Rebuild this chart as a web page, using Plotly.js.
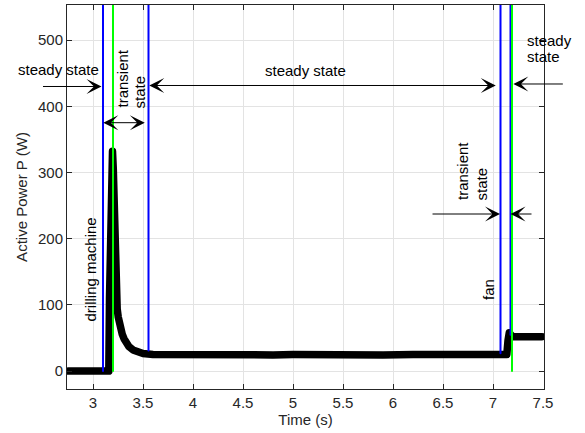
<!DOCTYPE html>
<html>
<head>
<meta charset="utf-8">
<script src="https://cdn.plot.ly/plotly-3.0.1.min.js"></script>
<style>
html,body{margin:0;padding:0;background:#fff;}
#chart{width:585px;height:433px;}
.scatterlayer .js-line{stroke-linejoin:round !important;stroke-linecap:round !important;}
</style>
</head>
<body>
<div id="chart"></div>
<script>
// Measured active power (W) vs time (s)
const time = [2.75, 2.9, 3.05, 3.158, 3.165, 3.175, 3.185, 3.195, 3.203, 3.208, 3.213, 3.218, 3.225, 3.233, 3.242, 3.252, 3.263, 3.277, 3.292, 3.31, 3.33, 3.36, 3.40, 3.45, 3.5, 3.6, 3.8, 4.0, 4.2, 4.5, 4.8, 5.0, 5.3, 5.6, 5.9, 6.2, 6.5, 6.8, 7.0, 7.138, 7.15, 7.163, 7.178, 7.2, 7.3, 7.4, 7.49];
const power = [0, 0, 0, 0, 110, 240, 315, 332, 305, 258, 210, 170, 135, 110, 94, 82, 72, 63, 56, 49, 44, 37, 32, 28, 26.5, 25, 24.5, 25, 24.5, 25, 24.5, 25, 24, 25, 24.5, 25, 24.5, 25, 24.5, 25, 46, 58, 55, 52, 51.5, 52, 52];

// Event marker lines (x position, y start, y end)
const blueX = [3.10, 3.555, 7.075, 7.175];
const blueY0 = [0, 31, 27, 55];
const greenX = [3.20, 7.19];
const greenY0 = [0, 0];
const lineTop = 600;

const xTicks = [3, 3.5, 4, 4.5, 5, 5.5, 6, 6.5, 7, 7.5];
const yTicks = [0, 100, 200, 300, 400, 500];

const traces = [{
  x: time, y: power, type: 'scatter', mode: 'lines',
  line: {color: '#000000', width: 7.5}, hoverinfo: 'skip', showlegend: false
}];
blueX.forEach((xv, i) => traces.push({
  x: [xv, xv], y: [blueY0[i], lineTop], type: 'scatter', mode: 'lines',
  line: {color: '#0000ff', width: 2}, showlegend: false, hoverinfo: 'skip'
}));
greenX.forEach((xv, i) => traces.push({
  x: [xv, xv], y: [greenY0[i], lineTop], type: 'scatter', mode: 'lines',
  line: {color: '#00ff00', width: 2}, showlegend: false, hoverinfo: 'skip'
}));

const F = 'Liberation Sans, Arial, Helvetica, sans-serif';
const txt = (text, x, y, opts) => Object.assign({
  text: text, x: x, y: y, xref: 'paper', yref: 'paper', showarrow: false,
  font: {family: F, size: 15, color: '#000'}
}, opts || {});
const arr = (x, y, ax, both) => ({
  text: '', x: x, y: y, xref: 'paper', yref: 'paper', ax: ax, ay: 0,
  showarrow: true, arrowhead: 3, arrowsize: 2.5, arrowwidth: 1, arrowcolor: '#000',
  startarrowhead: 3, startarrowsize: 2.5, arrowside: both ? 'end+start' : 'end',
  standoff: 0, startstandoff: 0
});

const annotations = [
  txt('steady state', -0.0168, 0.8333, {xanchor: 'center', yanchor: 'middle'}),
  txt('transient', 0.1164, 0.7266, {textangle: -90, xanchor: 'center', yanchor: 'bottom'}),
  txt('state', 0.1530, 0.7266, {textangle: -90, xanchor: 'center', yanchor: 'bottom'}),
  txt('steady state', 0.4990, 0.8307, {xanchor: 'center', yanchor: 'middle'}),
  txt('steady', 0.9602, 0.9063, {xanchor: 'left', yanchor: 'middle'}),
  txt('state', 0.9602, 0.8646, {xanchor: 'left', yanchor: 'middle'}),
  txt('transient', 0.8302, 0.4870, {textangle: -90, xanchor: 'center', yanchor: 'bottom'}),
  txt('state', 0.8700, 0.4870, {textangle: -90, xanchor: 'center', yanchor: 'bottom'}),
  txt('drilling machine', 0.0493, 0.1693, {textangle: -90, xanchor: 'center', yanchor: 'bottom'}),
  txt('fan', 0.8836, 0.2266, {textangle: -90, xanchor: 'center', yanchor: 'bottom'}),
  arr(0.0723, 0.7878, -60, false),
  arr(0.0761, 0.6935, 43, true),
  arr(0.1725, 0.7904, 348, true),
  arr(0.9357, 0.7943, 51, false),
  arr(0.9078, 0.4557, -69, false),
  arr(0.9298, 0.4557, 22.5, false)
];

const axisCommon = {
  showline: true, linecolor: '#262626', linewidth: 1, mirror: 'ticks',
  ticks: 'inside', ticklen: 5, tickwidth: 1, tickcolor: '#262626',
  showgrid: true, gridcolor: '#e3e3e3', gridwidth: 1, zeroline: false,
  tickfont: {family: F, size: 15, color: '#262626'}
};

const layout = {
  width: 585, height: 433,
  margin: {l: 67, r: 41, t: 5, b: 44},
  paper_bgcolor: '#ffffff', plot_bgcolor: '#ffffff',
  showlegend: false,
  xaxis: Object.assign({}, axisCommon, {
    range: [2.74, 7.51], tickmode: 'array', tickvals: xTicks, ticktext: xTicks.map(String),
    title: {text: 'Time (s)', font: {family: F, size: 15, color: '#262626'}, standoff: 4}
  }),
  yaxis: Object.assign({}, axisCommon, {
    range: [-27, 553], tickmode: 'array', tickvals: yTicks, ticktext: yTicks.map(String),
    title: {text: 'Active Power P (W)', font: {family: F, size: 15, color: '#262626'}, standoff: 6}
  }),
  annotations: annotations
};

Plotly.newPlot('chart', traces, layout, {displayModeBar: false, staticPlot: true});
</script>
</body>
</html>
